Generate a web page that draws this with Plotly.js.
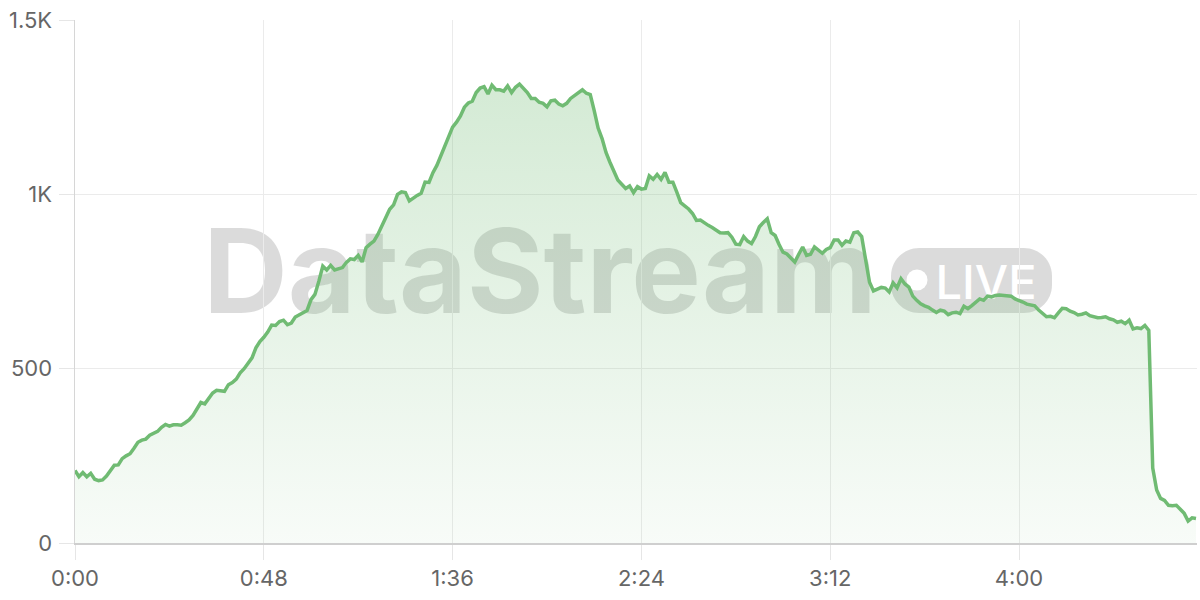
<!DOCTYPE html>
<html>
<head>
<meta charset="utf-8">
<script src="https://cdn.plot.ly/plotly-3.0.1.min.js"></script>
<style>
  html, body { margin: 0; padding: 0; background: #fff; }
  #chart { width: 1200px; height: 600px; }
</style>
</head>
<body>
<div id="chart"></div>
<script>
// ---- data (seconds since start, viewers) ----
const seconds = [
  0,1,2,3,4,5,6,7,8,9,10,11,12,13,14,15,16,17,18,19,20,21,22,23,24,25,26,27,28,29,
  30,31,32,33,34,35,36,37,38,39,40,41,42,43,44,45,46,47,48,49,50,51,52,53,54,55,56,57,58,59,
  60,61,62,63,64,65,66,67,68,69,70,71,72,73,74,75,76,77,78,79,80,81,82,83,84,85,86,87,88,89,
  90,91,92,93,94,95,96,97,98,99,100,101,102,103,104,105,106,107,108,109,110,111,112,113,114,115,116,117,118,119,
  120,121,122,123,124,125,126,127,128,129,130,131,132,133,134,135,136,137,138,139,140,141,142,143,144,145,146,147,148,149,
  150,151,152,153,154,155,156,157,158,159,160,161,162,163,164,165,166,167,168,169,170,171,172,173,174,175,176,177,178,179,
  180,181,182,183,184,185,186,187,188,189,190,191,192,193,194,195,196,197,198,199,200,201,202,203,204,205,206,207,208,209,
  210,211,212,213,214,215,216,217,218,219,220,221,222,223,224,225,226,227,228,229,230,231,232,233,234,235,236,237,238,239,
  240,241,242,243,244,245,246,247,248,249,250,251,252,253,254,255,256,257,258,259,260,261,262,263,264,265,266,267,268,269,
  270,271,272,273,274,275,276,277,278,279,280,281,282,283,284,285
];
const viewers = [
  208,190,202,190,200,183,179,181,192,208,223,224,242,250,256,272,289,295,298,309,314,320,332,340,335,339,339,338,345,353,
  366,385,403,399,415,430,438,436,435,454,460,470,488,500,515,531,560,578,590,605,625,624,635,639,626,631,648,655,660,667,
  698,713,751,794,783,796,783,787,790,805,815,813,825,806,847,857,866,885,910,933,957,970,1000,1007,1005,981,990,997,1003,1035,
  1034,1062,1083,1112,1140,1165,1193,1207,1225,1250,1262,1267,1292,1305,1309,1288,1313,1300,1300,1296,1311,1292,1307,1316,1305,1292,1275,1275,1264,1261,
  1251,1268,1270,1259,1254,1261,1275,1283,1290,1300,1290,1286,1240,1190,1160,1120,1092,1068,1041,1029,1017,1024,1005,1022,1015,1017,1053,1043,1057,1043,
  1063,1035,1035,1006,976,967,958,945,925,926,917,911,905,898,890,889,890,877,857,856,879,866,859,879,907,919,930,890,882,856,
  834,829,818,806,828,849,825,828,849,839,831,842,847,869,869,854,866,863,890,892,879,813,748,723,728,733,731,720,746,732,
  758,743,734,708,696,686,680,676,668,661,668,665,655,660,662,658,679,672,681,689,700,696,708,706,710,711,710,708,708,700,
  696,691,685,682,680,668,658,649,650,646,660,673,672,665,661,654,656,660,652,650,646,647,649,643,640,633,636,629,639,614,
  617,615,624,610,215,152,128,122,108,107,108,97,85,63,72,70
];
const xTickVals = [0, 48, 96, 144, 192, 240];
const xTickText = ['0:00', '0:48', '1:36', '2:24', '3:12', '4:00'];
const yTickVals = [0, 500, 1000, 1500];
const yTickText = ['0', '500', '1K', '1.5K'];

// ---- layout geometry (pixels) ----
const ML = 75, MR = 3, MT = 20, MB = 57, WIDTH = 1200, HEIGHT = 600;
const PW = WIDTH - ML - MR, PH = HEIGHT - MT - MB;
const px = X => (X - ML) / PW;
const py = Y => (MT + PH - Y) / PH;

function pillPath(x0, y0, x1, y1, r) {
  const k = 0.5523 * r;
  const P = (X, Y) => px(X).toFixed(5) + ',' + py(Y).toFixed(5);
  return 'M' + P(x0 + r, y0) +
    ' L' + P(x1 - r, y0) +
    ' C' + P(x1 - r + k, y0) + ' ' + P(x1, y0 + r - k) + ' ' + P(x1, y0 + r) +
    ' L' + P(x1, y1 - r) +
    ' C' + P(x1, y1 - r + k) + ' ' + P(x1 - r + k, y1) + ' ' + P(x1 - r, y1) +
    ' L' + P(x0 + r, y1) +
    ' C' + P(x0 + r - k, y1) + ' ' + P(x0, y1 - r + k) + ' ' + P(x0, y1 - r) +
    ' L' + P(x0, y0 + r) +
    ' C' + P(x0, y0 + r - k) + ' ' + P(x0 + r - k, y0) + ' ' + P(x0 + r, y0) + ' Z';
}

const wmColor = 'rgba(0,0,0,0.14)';
const green = 'rgb(112,187,115)';

const trace = {
  x: seconds,
  y: viewers,
  type: 'scatter',
  mode: 'lines',
  line: { color: green, width: 3.5 },
  fill: 'tozeroy',
  fillgradient: {
    type: 'vertical',
    start: 0,
    stop: 1316,
    colorscale: [[0, 'rgba(112,187,115,0.05)'], [1, 'rgba(112,187,115,0.30)']]
  },
  hoverinfo: 'skip'
};

const layout = {
  width: WIDTH, height: HEIGHT,
  margin: { l: ML, r: MR, t: MT, b: MB, pad: 0 },
  paper_bgcolor: '#ffffff',
  plot_bgcolor: '#ffffff',
  showlegend: false,
  hovermode: false,
  font: { family: 'Inter, "Noto Sans", sans-serif', color: '#666666', size: 22 },
  xaxis: {
    range: [0, PW / (1019 - 75) * 240],
    tickvals: xTickVals, ticktext: xTickText,
    showgrid: true, gridcolor: '#ebebeb', gridwidth: 1,
    zeroline: false,
    showline: true, linecolor: '#cfcfcf', linewidth: 1.5,
    ticks: 'outside', ticklen: 15, tickcolor: '#e6e6e6', tickwidth: 1,
    tickfont: { size: 22, color: '#666666' },
    fixedrange: true
  },
  yaxis: {
    range: [0, 1500],
    tickvals: yTickVals, ticktext: yTickText,
    showgrid: true, gridcolor: '#ebebeb', gridwidth: 1,
    zeroline: false,
    showline: true, linecolor: '#d6d6d6', linewidth: 1.5,
    ticks: 'outside', ticklen: 15, tickcolor: '#e6e6e6', tickwidth: 1,
    ticklabelstandoff: 2,
    tickfont: { size: 22, color: '#666666' },
    fixedrange: true
  },
  shapes: [
    {
      type: 'rect', xref: 'paper', yref: 'paper', layer: 'between',
      x0: px(190), x1: px(890), y0: py(316), y1: py(216),
      line: { width: 0 }, fillcolor: 'rgba(0,0,0,0)',
      label: {
        text: 'DataStream', textposition: 'middle center',
        font: { family: 'Inter', size: 117, color: wmColor, weight: 700 }
      }
    },
    {
      type: 'path', xref: 'paper', yref: 'paper', layer: 'between',
      path: pillPath(891, 248, 1052, 313, 28),
      line: { width: 0 }, fillcolor: wmColor
    },
    {
      type: 'circle', xref: 'paper', yref: 'paper', layer: 'between',
      x0: px(906.5), x1: px(927.5), y0: py(290.5), y1: py(269.5),
      line: { width: 0 }, fillcolor: '#ffffff'
    },
    {
      type: 'rect', xref: 'paper', yref: 'paper', layer: 'between',
      x0: px(933), x1: px(1039), y0: py(305), y1: py(255),
      line: { width: 0 }, fillcolor: 'rgba(0,0,0,0)',
      label: {
        text: 'LIVE', textposition: 'middle center',
        font: { family: 'Inter', size: 47, color: '#ffffff', weight: 500 }
      }
    }
  ]
};

Plotly.newPlot('chart', [trace], layout, { displayModeBar: false, staticPlot: true });
</script>
</body>
</html>
